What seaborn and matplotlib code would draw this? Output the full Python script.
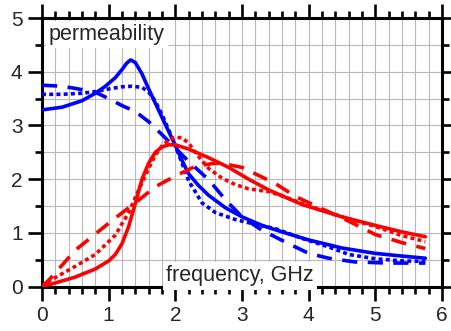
import matplotlib
matplotlib.use("Agg")
import matplotlib.pyplot as plt
import seaborn as sns
import pandas as pd
from matplotlib.ticker import MultipleLocator

sns.set_theme(style="white")
plt.rcParams['font.family'] = ['Liberation Sans', 'DejaVu Sans']

# ---- data ----
blue_solid_x = [0, 0.3, 0.6, 0.8, 0.95, 1.1, 1.2, 1.27, 1.33, 1.4, 1.5, 1.6, 1.8, 2.0, 2.1, 2.2, 2.35, 2.5, 2.75, 3.0, 3.3, 3.6, 4.0, 4.5, 5.0, 5.4, 5.75]
blue_solid_y = [3.29, 3.34, 3.46, 3.6, 3.73, 3.89, 4.04, 4.16, 4.22, 4.17, 3.96, 3.68, 3.15, 2.63, 2.35, 2.1, 1.88, 1.7, 1.47, 1.3, 1.14, 1.02, 0.87, 0.72, 0.62, 0.57, 0.53]

blue_dot_x = [0, 0.3, 0.6, 0.8, 1.0, 1.2, 1.35, 1.5, 1.6, 1.7, 1.8, 1.9, 2.0, 2.1, 2.2, 2.4, 2.6, 2.9, 3.2, 3.5, 3.9, 4.3, 4.6, 5.0, 5.4, 5.75]
blue_dot_y = [3.58, 3.58, 3.6, 3.63, 3.68, 3.72, 3.73, 3.71, 3.62, 3.45, 3.2, 2.92, 2.62, 2.3, 1.97, 1.56, 1.38, 1.25, 1.16, 1.08, 0.9, 0.74, 0.6, 0.52, 0.48, 0.47]

blue_dash_x = [0, 0.3, 0.5, 0.8, 1.0, 1.2, 1.4, 1.6, 1.8, 2.0, 2.2, 2.5, 2.75, 3.0, 3.3, 3.7, 4.0, 4.3, 4.7, 5.2, 5.75]
blue_dash_y = [3.75, 3.73, 3.69, 3.62, 3.5, 3.37, 3.26, 3.07, 2.83, 2.58, 2.33, 1.99, 1.62, 1.3, 1.05, 0.8, 0.62, 0.53, 0.46, 0.44, 0.44]

red_solid_x = [0, 0.2, 0.5, 0.8, 1.0, 1.1, 1.2, 1.3, 1.4, 1.5, 1.6, 1.7, 1.8, 1.9, 2.0, 2.2, 2.5, 2.8, 3.1, 3.4, 3.9, 4.5, 5.0, 5.4, 5.75]
red_solid_y = [0, 0.07, 0.18, 0.33, 0.48, 0.6, 0.8, 1.12, 1.55, 2.0, 2.3, 2.5, 2.6, 2.64, 2.64, 2.56, 2.4, 2.22, 2.0, 1.8, 1.53, 1.3, 1.14, 1.02, 0.93]

red_dot_x = [0, 0.1, 0.5, 0.8, 1.1, 1.3, 1.45, 1.6, 1.7, 1.8, 1.9, 2.0, 2.1, 2.2, 2.35, 2.5, 2.7, 2.9, 3.1, 3.4, 3.6, 3.9, 4.5, 5.0, 5.4, 5.75]
red_dot_y = [0, 0.1, 0.38, 0.6, 0.96, 1.38, 1.8, 2.2, 2.45, 2.62, 2.73, 2.78, 2.77, 2.67, 2.42, 2.2, 2.02, 1.9, 1.82, 1.77, 1.69, 1.55, 1.3, 1.12, 0.95, 0.84]

red_dash_x = [0, 0.1, 0.5, 0.8, 1.1, 1.4, 1.7, 2.0, 2.3, 2.6, 2.8, 3.0, 3.2, 3.5, 3.8, 4.2, 4.6, 5.0, 5.4, 5.75]
red_dash_y = [0, 0.12, 0.68, 0.98, 1.28, 1.56, 1.86, 2.06, 2.24, 2.3, 2.27, 2.22, 2.1, 1.92, 1.68, 1.45, 1.22, 0.97, 0.82, 0.71]

x_ticks = [0, 1, 2, 3, 4, 5, 6]
y_ticks = [0, 1, 2, 3, 4, 5]
label_y = "permeability"
label_x = "frequency, GHz"

# ---- figure ----
fig = plt.figure(figsize=(4.52, 3.31), dpi=100)
ax = fig.add_axes([42 / 452, 1 - 286.7 / 331, 400 / 452, (286.7 - 18) / 331])

lw = 2.6
dotted = (0, (1.1, 0.9))
dashed = (0, (4.2, 2.9))

series = [
    (blue_solid_x, blue_solid_y, "#0000ff", "-"),
    (blue_dot_x, blue_dot_y, "#0000ff", dotted),
    (blue_dash_x, blue_dash_y, "#0000ff", dashed),
    (red_solid_x, red_solid_y, "#ff0000", "-"),
    (red_dot_x, red_dot_y, "#ff0000", dotted),
    (red_dash_x, red_dash_y, "#ff0000", dashed),
]
for xs, ys, c, ls in series:
    df = pd.DataFrame({"f": xs, "mu": ys})
    sns.lineplot(data=df, x="f", y="mu", ax=ax, color=c, linewidth=lw,
                 linestyle=ls, sort=False, estimator=None, zorder=3,
                 solid_capstyle="round")

ax.set_xlim(0, 6)
ax.set_ylim(0, 5)
ax.set_xticks(x_ticks)
ax.set_yticks(y_ticks)
ax.xaxis.set_minor_locator(MultipleLocator(0.2))
ax.yaxis.set_minor_locator(MultipleLocator(0.5))
ax.set_xlabel("")
ax.set_ylabel("")

ax.grid(True, which="both", color="#b8b8b8", linewidth=0.8, zorder=0)
ax.set_axisbelow(True)

for s in ax.spines.values():
    s.set_visible(True)
    s.set_color("black")
    s.set_linewidth(2.2)

ax.tick_params(which="both", direction="out", color="black", width=1.9,
               top=True, right=True, bottom=True, left=True,
               labeltop=False, labelright=False)
ax.tick_params(which="major", length=10, labelsize=15, pad=4)
ax.tick_params(which="minor", length=5)

box = dict(facecolor="white", edgecolor="none", boxstyle="square,pad=0.15")
ax.text(0.105, 4.59, label_y, fontsize=15.5, ha="left", va="baseline",
        bbox=box, zorder=5)
ax.text(1.86, 0.1, label_x, fontsize=15.5, ha="left", va="baseline",
        bbox=box, zorder=5)

fig.savefig("out.png", dpi=100)
